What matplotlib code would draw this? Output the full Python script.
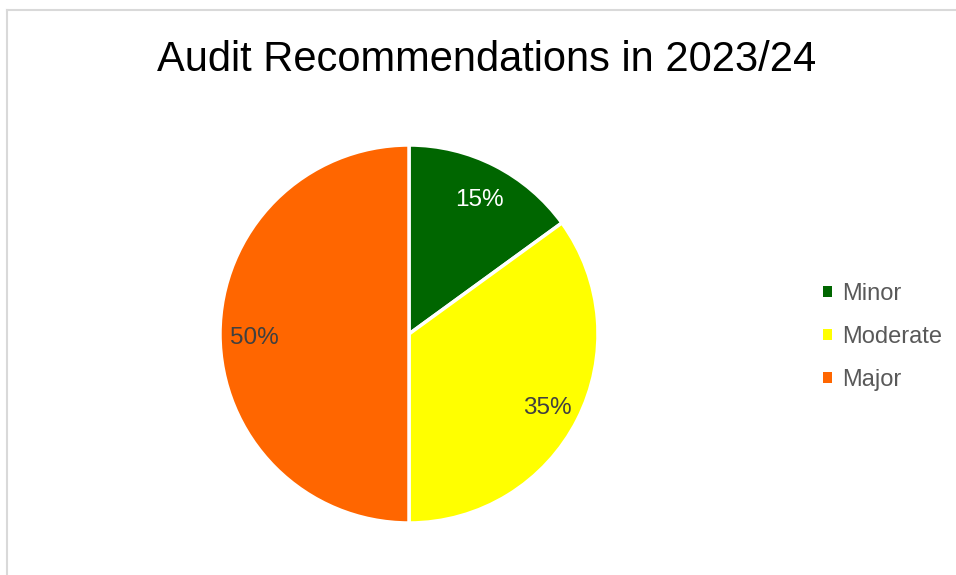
import matplotlib
matplotlib.use("Agg")
import matplotlib.pyplot as plt
from matplotlib.lines import Line2D
from matplotlib.patches import Rectangle

plt.rcParams['font.family'] = ['Liberation Sans', 'DejaVu Sans']

title = "Audit Recommendations in 2023/24"
categories = ["Minor", "Moderate", "Major"]
values = [15, 35, 50]
colors = ["#006600", "#FFFF00", "#FF6600"]
label_colors = ["white", "#404040", "#404040"]

W, H = 956, 575
fig = plt.figure(figsize=(W / 100, H / 100), dpi=100)

# chart border (light gray, top & left visible)
fig.add_artist(Line2D([7 / W, 1], [1 - 10 / H, 1 - 10 / H], color="#d9d9d9", lw=1.5))
fig.add_artist(Line2D([7 / W, 7 / W], [0, 1 - 10 / H], color="#d9d9d9", lw=1.5))

cx, cy, r = 409, 334, 189
ax = fig.add_axes([(cx - r) / W, (H - cy - r) / H, 2 * r / W, 2 * r / H])
wedges, texts, autotexts = ax.pie(
    values, colors=colors, startangle=90, counterclock=False,
    autopct="%1.0f%%", pctdistance=0.82, radius=1,
    wedgeprops=dict(edgecolor="white", linewidth=2.5),
    textprops=dict(fontsize=17.5),
)
for t, c in zip(autotexts, label_colors):
    t.set_color(c)
    x, y = t.get_position()
    t.set_position((x, y - 0.02))
ax.set_xlim(-1, 1)
ax.set_ylim(-1, 1)
ax.set_aspect("equal")
ax.axis("off")

fig.text(487 / W, 1 - 71 / H, title, ha="center", va="baseline", fontsize=30, color="black")

handles = [Rectangle((0, 0), 1, 1, facecolor=c, edgecolor="none") for c in colors]
leg = fig.legend(handles, categories, loc="center left", bbox_to_anchor=(823 / W, 1 - 337 / H),
                 frameon=False, fontsize=17, handlelength=0.36, handleheight=0.36,
                 handletextpad=0.45, labelspacing=0.88, borderaxespad=0, borderpad=0)
for t in leg.get_texts():
    t.set_color("#595959")

fig.savefig("out.png", dpi=100, facecolor="white")
